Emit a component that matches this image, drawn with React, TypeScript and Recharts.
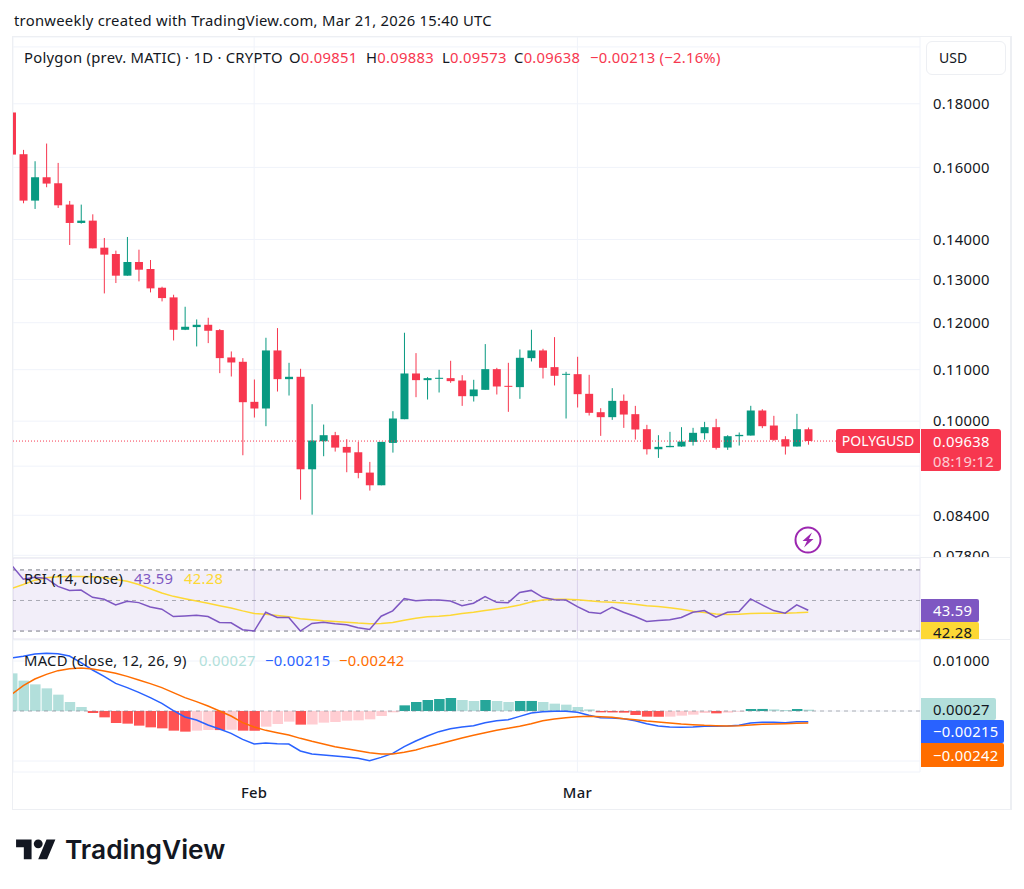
import React from 'react';
import {
  ComposedChart,
  Bar,
  Line,
  Cell,
  CartesianGrid,
  XAxis,
  YAxis,
  ReferenceArea,
  ReferenceLine,
} from 'recharts';

const FONT = '"Noto Sans", sans-serif';
const UP = '#089981';
const DOWN = '#F7374F';
const SIZE = 14.8;
const SPACING = 0.27;

// one entry per daily candle, Jan 11 to Mar 21
const opens = [
  0.17712, 0.16395, 0.15045, 0.1571, 0.15536, 0.14934, 0.14435, 0.14497, 0.13789, 0.13628,
  0.13092, 0.13428, 0.13255, 0.12803, 0.12576, 0.11844, 0.11903, 0.11954, 0.11837, 0.11252,
  0.11162, 0.10364, 0.10237, 0.11399, 0.10809, 0.10856, 0.09147, 0.09635, 0.09743, 0.09534,
  0.0944, 0.09091, 0.0888, 0.09605, 0.10036, 0.10923, 0.10789, 0.10815, 0.10829, 0.10782,
  0.10473, 0.10597, 0.11011, 0.10676, 0.1065, 0.11238, 0.11399, 0.11052, 0.10896, 0.10909,
  0.10519, 0.10167, 0.10074, 0.10383, 0.1013, 0.09852, 0.09493, 0.09529, 0.09541, 0.09623,
  0.09779, 0.09889, 0.09523, 0.09725, 0.09737, 0.10199, 0.09919, 0.09671, 0.09541, 0.09851,
];
const closes = [
  0.16384, 0.15045, 0.1571, 0.15527, 0.14915, 0.14435, 0.14497, 0.13772, 0.13612, 0.13092,
  0.13428, 0.13238, 0.12788, 0.1256, 0.11844, 0.1191, 0.11954, 0.11822, 0.11238, 0.11148,
  0.10357, 0.10237, 0.11399, 0.10809, 0.10856, 0.09147, 0.09647, 0.09743, 0.09522, 0.09434,
  0.09086, 0.0888, 0.09623, 0.10049, 0.10923, 0.10789, 0.10829, 0.10836, 0.10769, 0.10473,
  0.10604, 0.11011, 0.10663, 0.10656, 0.11245, 0.11399, 0.11038, 0.10876, 0.10916, 0.10512,
  0.10155, 0.10074, 0.10383, 0.10123, 0.09846, 0.09493, 0.09535, 0.09552, 0.09629, 0.09786,
  0.09889, 0.09517, 0.09725, 0.09749, 0.10199, 0.09907, 0.09659, 0.09541, 0.09852, 0.09638,
];
const highs = [
  0.17712, 0.16527, 0.16183, 0.16722, 0.16133, 0.15036, 0.14934, 0.14668, 0.14039, 0.13713,
  0.14065, 0.13738, 0.13478, 0.12827, 0.12638, 0.1236, 0.12073, 0.12111, 0.11859, 0.11378,
  0.11238, 0.10802, 0.1167, 0.11881, 0.11141, 0.11018, 0.10319, 0.09937, 0.09803, 0.09671,
  0.09623, 0.09273, 0.09623, 0.10186, 0.11779, 0.11343, 0.10849, 0.10998, 0.11183, 0.10889,
  0.10796, 0.11534, 0.11038, 0.11141, 0.1142, 0.11844, 0.11434, 0.11684, 0.10957, 0.11266,
  0.10896, 0.10243, 0.1063, 0.10506, 0.10287, 0.09932, 0.09743, 0.09804, 0.09889, 0.09877,
  0.09987, 0.10043, 0.09743, 0.09792, 0.10288, 0.10224, 0.10099, 0.09725, 0.10136, 0.09883,
];
const lows = [
  0.16384, 0.14971, 0.14814, 0.15422, 0.14842, 0.13858, 0.14417, 0.13772, 0.12669, 0.12915,
  0.13092, 0.12955, 0.12693, 0.12483, 0.11612, 0.11837, 0.11484, 0.11555, 0.1093, 0.10862,
  0.09388, 0.10067, 0.09907, 0.10564, 0.10486, 0.08647, 0.0841, 0.09371, 0.09452, 0.09097,
  0.08996, 0.08793, 0.0888, 0.09434, 0.10036, 0.10454, 0.10409, 0.10545, 0.10736, 0.10287,
  0.1037, 0.10597, 0.10506, 0.10174, 0.10422, 0.11169, 0.10822, 0.10683, 0.10049, 0.10256,
  0.10105, 0.09731, 0.10024, 0.09876, 0.09665, 0.094, 0.09342, 0.09529, 0.09535, 0.09558,
  0.09665, 0.09488, 0.09482, 0.09558, 0.09737, 0.09871, 0.09641, 0.094, 0.09541, 0.09573,
];
const rsi = [
  73.0, 63.9, 65.2, 64.4, 59.2, 56.6, 56.8, 52.1, 50.8, 47.1,
  49.5, 48.6, 45.8, 44.3, 39.5, 39.9, 40.4, 39.5, 35.6, 35.4,
  30.9, 30.0, 42.3, 38.9, 38.9, 30.0, 35.0, 35.8, 34.8, 34.1,
  32.2, 31.1, 39.7, 43.2, 51.2, 49.9, 50.3, 50.3, 49.7, 46.6,
  48.2, 52.5, 48.8, 48.6, 55.3, 56.6, 52.1, 50.5, 50.3, 46.0,
  42.3, 41.5, 45.6, 42.3, 39.5, 36.3, 36.9, 37.4, 38.9, 42.3,
  43.4, 39.1, 42.3, 42.8, 51.0, 47.1, 43.4, 41.7, 47.1, 43.59,
];
const rsiMa = [
  57.9, 60.5, 63.3, 64.8, 65.5, 65.7, 65.7, 65.5, 64.8, 63.7,
  62.6, 60.5, 57.7, 54.9, 52.7, 51.2, 49.7, 48.2, 46.6, 45.1,
  43.2, 41.5, 41.0, 40.2, 39.3, 38.0, 37.4, 36.7, 36.3, 35.8,
  35.2, 34.8, 35.0, 35.6, 37.1, 38.4, 39.3, 39.7, 40.4, 41.5,
  42.3, 43.4, 44.5, 45.6, 47.1, 49.0, 50.3, 50.8, 50.8, 50.5,
  49.9, 49.2, 48.8, 48.4, 47.5, 46.6, 46.0, 45.3, 44.3, 43.0,
  42.1, 41.2, 40.8, 41.0, 41.5, 41.7, 41.7, 41.7, 41.9, 42.28,
];
const macd = [
  0.0106, 0.01093, 0.0114, 0.01153, 0.01147, 0.011, 0.00967, 0.0082, 0.00693, 0.00553,
  0.00467, 0.00373, 0.00267, 0.00153, 0.00007, -0.0012, -0.0018, -0.0028, -0.0036, -0.00447,
  -0.00567, -0.0066, -0.0064, -0.00653, -0.0066, -0.008, -0.0086, -0.0088, -0.009, -0.0092,
  -0.00947, -0.00993, -0.00927, -0.00847, -0.00713, -0.006, -0.005, -0.00413, -0.00353, -0.0032,
  -0.00293, -0.00233, -0.00193, -0.00173, -0.00107, -0.0004, -0.00013, -0.00007, -0.00007, -0.00027,
  -0.00087, -0.00133, -0.0014, -0.00153, -0.00193, -0.00253, -0.003, -0.0032, -0.00327, -0.0032,
  -0.00307, -0.00307, -0.003, -0.00287, -0.0024, -0.00227, -0.00227, -0.00233, -0.00213, -0.00215,
];
const signal = [
  0.00333, 0.00507, 0.0064, 0.00733, 0.00807, 0.00847, 0.0086, 0.0084, 0.008, 0.00753,
  0.00693, 0.0062, 0.00547, 0.00467, 0.00367, 0.00267, 0.00187, 0.001, 0, -0.001,
  -0.00233, -0.0032, -0.00387, -0.00433, -0.0048, -0.00547, -0.00607, -0.0066, -0.00713, -0.00753,
  -0.00793, -0.00833, -0.0086, -0.0086, -0.00827, -0.0078, -0.00713, -0.0066, -0.006, -0.0054,
  -0.00487, -0.00433, -0.00387, -0.00347, -0.00307, -0.00253, -0.00193, -0.0016, -0.00133, -0.00113,
  -0.00107, -0.00113, -0.00127, -0.00153, -0.00173, -0.002, -0.0022, -0.0024, -0.0026, -0.00273,
  -0.00287, -0.00293, -0.003, -0.00293, -0.0028, -0.00267, -0.0026, -0.00253, -0.00247, -0.00242,
];
const histogram = [
  0.00753, 0.00607, 0.00533, 0.00453, 0.00327, 0.0018, 0.0008, -0.0004, -0.00127, -0.0024,
  -0.00253, -0.00293, -0.00327, -0.00347, -0.00393, -0.00413, -0.00393, -0.0038, -0.00382, -0.00375,
  -0.00393, -0.00395, -0.00313, -0.0026, -0.00213, -0.00273, -0.0027, -0.00233, -0.0022, -0.00193,
  -0.00187, -0.00167, -0.001, -0.00027, 0.00113, 0.0018, 0.0022, 0.0024, 0.0026, 0.0022,
  0.002, 0.0022, 0.002, 0.0018, 0.002, 0.00201, 0.0018, 0.00147, 0.00127, 0.0008,
  0.00033, -0.00027, -0.00029, -0.00033, -0.0008, -0.00113, -0.00115, -0.00113, -0.00093, -0.00073,
  -0.0004, -0.00047, -0.00033, -0.00013, 0.0004, 0.00041, 0.00033, 0.0002, 0.0004, 0.00027,
];

// gridlines sit at every tick, labels only where the value badges leave room
const priceTicks = [0.2, 0.18, 0.16, 0.14, 0.13, 0.12, 0.11, 0.1, 0.092, 0.084, 0.078];
const priceLabels = [0.18, 0.16, 0.14, 0.13, 0.12, 0.11, 0.1, 0.084, 0.078];
const rsiTicks = [40];
const macdTicks = [0.01, 0, -0.01];
const macdLabels = [0.01];
const monthTicks = [20, 48];
const monthNames = ['Feb', 'Mar'];

const candles = opens.map((open, i) => ({
  day: i - 1,
  open,
  close: closes[i],
  high: highs[i],
  low: lows[i],
  range: [lows[i], highs[i]],
  rsi: rsi[i],
  rsiMa: rsiMa[i],
  macd: macd[i],
  signal: signal[i],
  hist: histogram[i],
}));

const xDomain: [number, number] = [-0.892, 77.68];

const histColor = (i: number) => {
  const v = histogram[i];
  const rising = i > 0 && v >= histogram[i - 1];
  if (v >= 0) return rising ? '#26A69A' : '#B2DFDB';
  return rising ? '#FFCDD2' : '#FF5252';
};

// the bar spans low..high, the body is placed inside it on the same log scale
const Candle = (props: any) => {
  const { x, y, width, height, payload } = props;
  const { open, close, high, low } = payload;
  const span = Math.log(high / low);
  const top = y + (height * Math.log(high / Math.max(open, close))) / span;
  const bottom = y + (height * Math.log(high / Math.min(open, close))) / span;
  const color = close >= open ? UP : DOWN;
  return (
    <g>
      <rect x={x + width / 2 - 0.5} y={y} width={1} height={height} fill={color} />
      <rect x={x} y={top} width={width} height={Math.max(bottom - top, 1)} fill={color} />
    </g>
  );
};

const gridColor = '#F0F3FA';
const tickStyle = { fontFamily: FONT, fontSize: SIZE, letterSpacing: SPACING, fill: '#131722' };

const Txt = ({ x, y, color = '#131722', size = SIZE, weight = 400, font = FONT, spacing = SPACING, children }: any) => (
  <div
    style={{
      position: 'absolute',
      left: x,
      top: y,
      transform: 'translateY(-50%)',
      color,
      fontSize: size,
      fontWeight: weight,
      fontFamily: font,
      letterSpacing: spacing,
      whiteSpace: 'nowrap',
      lineHeight: 1,
    }}
  >
    {children}
  </div>
);

const Badge = ({ x, y, w, h, bg, color = '#fff', children, z = 5 }: any) => (
  <div
    style={{
      position: 'absolute',
      left: x,
      top: y,
      width: w,
      height: h,
      background: bg,
      color,
      fontFamily: FONT,
      fontSize: SIZE,
      letterSpacing: SPACING,
      lineHeight: `${h}px`,
      paddingLeft: 12,
      boxSizing: 'border-box',
      borderRadius: '0 2px 2px 0',
      zIndex: z,
      whiteSpace: 'nowrap',
    }}
  >
    {children}
  </div>
);

const Rule = ({ x, y, w, h }: any) => (
  <div style={{ position: 'absolute', left: x, top: y, width: w, height: h, background: '#EDEFF3', zIndex: 6 }} />
);

const Pane = ({ top, height, children }: any) => (
  <div style={{ position: 'absolute', left: 13, top, width: 998, height, background: '#fff', overflow: 'hidden' }}>
    {children}
  </div>
);

export default function App() {
  return (
    <div style={{ position: 'absolute', left: 0, top: 0, width: 1024, height: 889, background: '#fff', overflow: 'hidden' }}>
      <Txt x={14} y={20}>tronweekly created with TradingView.com, Mar 21, 2026 15:40 UTC</Txt>

      <Pane top={37} height={521}>
        <ComposedChart width={998} height={521} data={candles} margin={{ top: 0, right: 0, bottom: 0, left: 0 }}>
          <CartesianGrid stroke={gridColor} />
          <XAxis dataKey="day" type="number" domain={xDomain} ticks={monthTicks} allowDataOverflow hide />
          <YAxis
            orientation="right"
            scale="log"
            domain={[0.07761, 0.2037]}
            ticks={priceTicks}
            interval={0}
            allowDataOverflow
            width={91}
            axisLine={false}
            tickLine={false}
            tickMargin={7}
            tick={tickStyle}
            tickFormatter={(v: number) => (priceLabels.includes(v) ? v.toFixed(5) : '')}
          />
          <ReferenceLine y={0.09638} stroke={DOWN} strokeDasharray="1 2" />
          <Bar dataKey="range" barSize={8} shape={Candle} isAnimationActive={false} />
        </ComposedChart>
      </Pane>

      <Pane top={558} height={81}>
        <ComposedChart width={998} height={81} data={candles} margin={{ top: 0, right: 0, bottom: 0, left: 0 }}>
          <ReferenceArea y1={30} y2={70} fill="#7E57C2" fillOpacity={0.1} stroke="none" />
          <CartesianGrid stroke="#E4E0F0" />
          <XAxis dataKey="day" type="number" domain={xDomain} ticks={monthTicks} allowDataOverflow hide />
          <YAxis
            orientation="right"
            domain={[24.8, 77.8]}
            ticks={rsiTicks}
            allowDataOverflow
            width={91}
            axisLine={false}
            tickLine={false}
            tick={false}
          />
          <ReferenceLine y={70} stroke="#787B86" strokeDasharray="4 4" />
          <ReferenceLine y={50} stroke="#787B86" strokeOpacity={0.6} strokeDasharray="4 4" />
          <ReferenceLine y={30} stroke="#787B86" strokeDasharray="4 4" />
          <Line dataKey="rsiMa" stroke="#FDD835" strokeWidth={1.5} dot={false} isAnimationActive={false} />
          <Line dataKey="rsi" stroke="#7E57C2" strokeWidth={1.5} dot={false} isAnimationActive={false} />
        </ComposedChart>
      </Pane>

      <Pane top={640} height={169}>
        <ComposedChart width={998} height={169} data={candles} margin={{ top: 0, right: 0, bottom: 0, left: 0 }}>
          <CartesianGrid stroke={gridColor} />
          <XAxis
            dataKey="day"
            type="number"
            domain={xDomain}
            ticks={monthTicks}
            allowDataOverflow
            height={37}
            axisLine={false}
            tickLine={false}
            tickMargin={9}
            tick={{ fontFamily: FONT, fontSize: SIZE, letterSpacing: SPACING, fontWeight: 500, fill: '#131722' }}
            tickFormatter={(v: number) => monthNames[monthTicks.indexOf(v)]}
          />
          <YAxis
            orientation="right"
            domain={[-0.0122, 0.0142]}
            ticks={macdTicks}
            interval={0}
            allowDataOverflow
            width={91}
            axisLine={false}
            tickLine={false}
            tickMargin={7}
            tick={tickStyle}
            tickFormatter={(v: number) => (macdLabels.includes(v) ? v.toFixed(5) : '')}
          />
          <ReferenceLine y={0} stroke="#787B86" strokeOpacity={0.6} strokeDasharray="4 4" />
          <Bar dataKey="hist" barSize={10.5} isAnimationActive={false}>
            {candles.map((_, i) => (
              <Cell key={i} fill={histColor(i)} />
            ))}
          </Bar>
          <Line dataKey="macd" stroke="#2962FF" strokeWidth={1.5} dot={false} isAnimationActive={false} />
          <Line dataKey="signal" stroke="#FF6D00" strokeWidth={1.5} dot={false} isAnimationActive={false} />
        </ComposedChart>
      </Pane>

      {/* frame and pane separators */}
      <Rule x={12} y={36} w={999} h={1} />
      <Rule x={13} y={557} w={998} h={1} />
      <Rule x={13} y={639} w={998} h={1} />
      <Rule x={12} y={809} w={999} h={1} />
      <Rule x={12} y={36} w={1} h={774} />
      <Rule x={1010} y={36} w={1.5} h={774} />

      {/* legends */}
      <div style={{ position: 'absolute', left: 0, top: 0, zIndex: 7 }}>
        <Txt x={24} y={57}>Polygon (prev. MATIC) · 1D · CRYPTO</Txt>
        <Txt x={289} y={57}>O<span style={{ color: DOWN }}>0.09851</span></Txt>
        <Txt x={366} y={57}>H<span style={{ color: DOWN }}>0.09883</span></Txt>
        <Txt x={442} y={57}>L<span style={{ color: DOWN }}>0.09573</span></Txt>
        <Txt x={514} y={57}>C<span style={{ color: DOWN }}>0.09638</span></Txt>
        <Txt x={590} y={57} color={DOWN}>−0.00213 (−2.16%)</Txt>
        <Txt x={24} y={578}>RSI (14, close)</Txt>
        <Txt x={134} y={578} color="#7E57C2">43.59</Txt>
        <Txt x={184} y={578} color="#FDD835">42.28</Txt>
        <Txt x={24} y={660}>MACD (close, 12, 26, 9)</Txt>
        <Txt x={199} y={660} color="#B2DFDB">0.00027</Txt>
        <Txt x={265} y={660} color="#2962FF">−0.00215</Txt>
        <Txt x={339} y={660} color="#FF6D00">−0.00242</Txt>
      </div>

      {/* currency button */}
      <div
        style={{
          position: 'absolute',
          left: 926,
          top: 41,
          width: 80,
          height: 34,
          background: '#fff',
          border: '1px solid #EDEFF3',
          borderRadius: 6,
          boxSizing: 'border-box',
          zIndex: 7,
          fontFamily: FONT,
          fontSize: 14,
          lineHeight: '32px',
          paddingLeft: 12,
          color: '#131722',
        }}
      >
        USD
      </div>

      {/* last value labels */}
      <div
        style={{
          position: 'absolute',
          left: 836,
          top: 429,
          width: 84,
          height: 24,
          background: DOWN,
          color: '#fff',
          fontFamily: FONT,
          fontSize: 14,
          lineHeight: '24px',
          textAlign: 'center',
          borderRadius: '3px 0 0 3px',
          zIndex: 7,
        }}
      >
        POLYGUSD
      </div>
      <div
        style={{
          position: 'absolute',
          left: 921,
          top: 429,
          width: 80,
          height: 42,
          background: DOWN,
          color: '#fff',
          fontFamily: FONT,
          fontSize: SIZE,
          letterSpacing: SPACING,
          lineHeight: '20px',
          padding: '2px 0 0 12px',
          boxSizing: 'border-box',
          borderRadius: '0 3px 3px 0',
          zIndex: 7,
        }}
      >
        0.09638
        <div style={{ opacity: 0.75 }}>08:19:12</div>
      </div>

      <Badge x={921} y={599} w={58} h={23} bg="#7E57C2">43.59</Badge>
      <div style={{ position: 'absolute', left: 921, top: 622, width: 58, height: 17, overflow: 'hidden', zIndex: 5 }}>
        <Badge x={0} y={0} w={58} h={20} bg="#FDD835" color="#131722">42.28</Badge>
      </div>
      <Badge x={921} y={698} w={75} h={22} bg="#B2DFDB" color="#131722">0.00027</Badge>
      <Badge x={921} y={720} w={83} h={23} bg="#2962FF">−0.00215</Badge>
      <Badge x={921} y={743} w={83} h={24} bg="#FF6D00">−0.00242</Badge>

      {/* alert mark */}
      <svg style={{ position: 'absolute', left: 794, top: 526, zIndex: 6 }} width={28} height={28} viewBox="0 0 28 28">
        <circle cx={14} cy={14} r={12.5} fill="#fff" stroke="#9C27B0" strokeWidth={2} />
        <path d="M18 6.5 L8.5 15 H13 L10 21.5 L19.5 13 H15 Z" fill="#9C27B0" />
      </svg>

      {/* TradingView logo */}
      <svg style={{ position: 'absolute', left: 16, top: 835 }} width={40} height={31} viewBox="0 0 36 28">
        <path d="M14 22H7V11H0V4h14v18zM28 22h-8l7.5-18h8L28 22z" fill="#131722" />
        <circle cx={20} cy={8} r={4} fill="#131722" />
      </svg>
      <Txt x={65} y={850} size={26.3} weight={600} font="Inter, sans-serif" spacing={0}>TradingView</Txt>
    </div>
  );
}
